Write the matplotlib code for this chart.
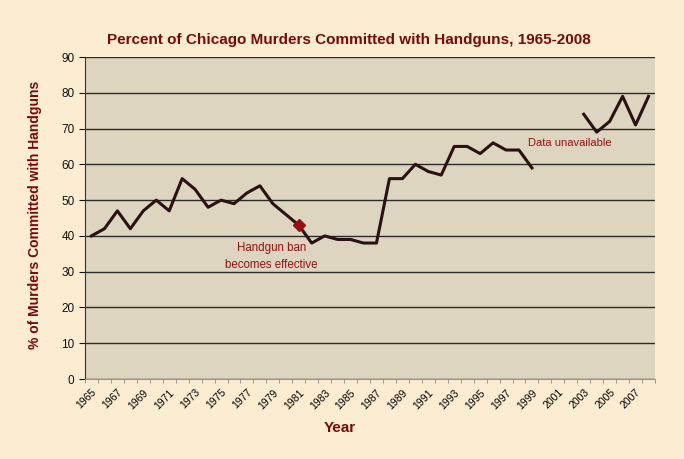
import numpy as np
import matplotlib
matplotlib.use('Agg')
import matplotlib.pyplot as plt

# datos (2000-2002 sin datos)
years = np.arange(1965, 2009)
pct = [40, 42, 47, 42, 47, 50, 47, 56, 53, 48,
       50, 49, 52, 54, 49, 46, 43, 38, 40, 39,
       39, 38, 38, 56, 56, 60, 58, 57, 65, 65,
       63, 66, 64, 64, 59, np.nan, np.nan, np.nan, 74, 69,
       72, 79, 71, 79]
ban_year = 1981
ban_value = 43
tick_years = list(range(1965, 2008, 2))
yticks = list(range(0, 91, 10))

dark_red = '#7a0a0a'
fig = plt.figure(figsize=(6.84, 4.59), dpi=100, facecolor='#fbecd2')
ax = fig.add_axes([85/684, 1-379/459, 570/684, 322/459])
ax.set_facecolor('#ddd5c0')

ax.plot(years, pct, color='#2a1212', lw=2.2, zorder=3)
ax.plot([ban_year], [ban_value], marker='D', ms=6, color='#9a1010', zorder=4)

ax.set_xlim(1964.5, 2008.5)
ax.set_ylim(0, 90)
ax.set_yticks(yticks)
ax.yaxis.grid(True, color='#2b2b2b', lw=1)
ax.set_axisbelow(True)
ax.set_xticks(tick_years)
ax.set_xticklabels([str(y) for y in tick_years], rotation=45, ha='right',
                   rotation_mode='anchor', fontsize=7.5, family='Liberation Sans')
ax.set_xticks(np.arange(1964.5, 2009, 1), minor=True)
ax.tick_params(axis='x', which='major', length=0, pad=6)
ax.tick_params(axis='x', which='minor', length=3, color='#888888')
ax.tick_params(axis='y', length=4, labelsize=8.5, colors='#111111')
for lab in ax.get_yticklabels():
    lab.set_family('Liberation Sans')
for s in ['top', 'right']:
    ax.spines[s].set_visible(False)
ax.spines['left'].set_color('#333333')
ax.spines['bottom'].set_color('#999999')

fam = ['Liberation Sans', 'DejaVu Sans']
fig.text(349/684, 1-40/459, 'Percent of Chicago Murders Committed with Handguns, 1965-2008',
         ha='center', va='center', fontsize=11, fontweight='bold', color=dark_red, family=fam)
fig.text(35/684, 1-215/459, '% of Murders Committed with Handguns', rotation=90,
         ha='center', va='center', fontsize=10, fontweight='bold', color=dark_red, family=fam)
fig.text(340/684, 1-428/459, 'Year', ha='center', va='center', fontsize=11,
         fontweight='bold', color=dark_red, family=fam)

ax.text(1978.9, 38.4, 'Handgun ban\nbecomes effective', ha='center', va='top',
        fontsize=8.3, color='#9a1010', family='Liberation Sans', linespacing=1.6)
ax.text(1998.7, 66, 'Data unavailable', ha='left', va='center',
        fontsize=8, color='#9a1010', family='Liberation Sans')

fig.savefig('out.png', dpi=100, facecolor=fig.get_facecolor())
